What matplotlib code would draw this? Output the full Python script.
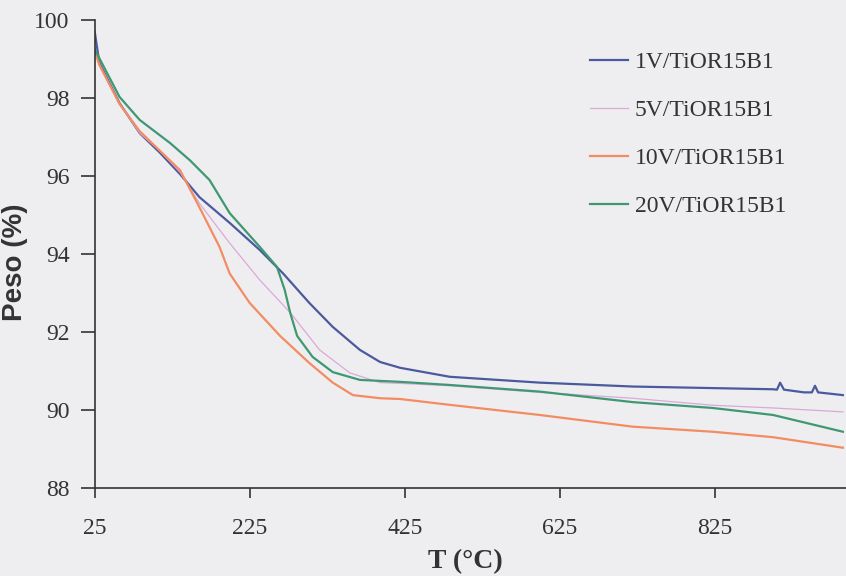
import numpy as np
import matplotlib.pyplot as plt

# TGA curves
T_1V = [25, 31, 57, 83, 109, 135, 160, 199, 238, 268, 302, 332, 367, 393, 419, 483, 599, 719, 822, 900, 905, 909, 914, 940, 950, 954, 958, 990]
W_1V = [99.7, 98.9, 97.87, 97.1, 96.6, 96.05, 95.46, 94.8, 94.1, 93.5, 92.74, 92.13, 91.54, 91.23, 91.08, 90.85, 90.7, 90.6, 90.56, 90.53, 90.52, 90.7, 90.52, 90.45, 90.45, 90.62, 90.45, 90.38]

T_5V = [25, 31, 57, 83, 109, 135, 160, 199, 238, 277, 315, 354, 393, 419, 483, 599, 719, 822, 900, 990]
W_5V = [99.2, 98.85, 97.85, 97.1, 96.65, 96.1, 95.3, 94.28, 93.33, 92.5, 91.54, 90.95, 90.7, 90.68, 90.62, 90.45, 90.3, 90.12, 90.05, 89.95]

T_10V = [25, 31, 57, 83, 109, 135, 160, 186, 199, 225, 264, 302, 332, 358, 393, 419, 483, 599, 719, 822, 900, 990]
W_10V = [99.2, 98.85, 97.85, 97.15, 96.65, 96.15, 95.2, 94.18, 93.5, 92.74, 91.9, 91.2, 90.7, 90.38, 90.3, 90.28, 90.13, 89.87, 89.57, 89.44, 89.3, 89.03]

T_20V = [25, 57, 83, 122, 148, 173, 199, 238, 260, 270, 277, 286, 306, 332, 367, 419, 483, 599, 719, 822, 900, 990]
W_20V = [99.25, 98.03, 97.44, 96.85, 96.4, 95.9, 95.05, 94.18, 93.67, 93.08, 92.5, 91.9, 91.36, 90.97, 90.77, 90.72, 90.64, 90.47, 90.2, 90.05, 89.87, 89.44]

labels = ['1V/TiOR15B1', '5V/TiOR15B1', '10V/TiOR15B1', '20V/TiOR15B1']
colors = ['#4b5a9e', '#dca8d8', '#f28c62', '#3f9872']
widths = [1.6, 0.9, 1.6, 1.6]

x_ticks = [25, 225, 425, 625, 825]
y_ticks = [88, 90, 92, 94, 96, 98, 100]

plt.rcParams['font.family'] = 'Liberation Serif'
bg = '#eeeef1'

fig = plt.figure(figsize=(8.46, 5.76), dpi=100, facecolor=bg)
ax = fig.add_axes([0.112, 0.153, 0.888, 0.812], facecolor=bg)

series = [(T_1V, W_1V), (T_5V, W_5V), (T_10V, W_10V), (T_20V, W_20V)]
for (t, w), lab, c, lw in zip(series, labels, colors, widths):
    ax.plot(t, w, color=c, lw=lw, label=lab)

ax.set_xlim(25, 994)
ax.set_ylim(88, 100)
ax.set_xticks(x_ticks)
ax.set_yticks(y_ticks)
for s in ['top', 'right']:
    ax.spines[s].set_visible(False)
for s in ['left', 'bottom']:
    ax.spines[s].set_color('#333333')
    ax.spines[s].set_linewidth(1.2)
ax.tick_params(axis='x', length=7, width=1.2, pad=15, labelsize=17, colors='#333333')
ax.tick_params(axis='y', length=10, width=1.2, pad=8, labelsize=17, colors='#333333')

ax.set_xlabel('T (°C)', fontsize=20, fontweight='bold', color='#333333')
ax.xaxis.set_label_coords(0.493, -0.13)
ax.set_ylabel('Peso (%)', fontsize=20, fontweight='bold', color='#333333',
              family='Liberation Sans')
ax.yaxis.set_label_coords(-0.089, 0.483)

leg = ax.legend(loc='upper left', bbox_to_anchor=(0.631, 0.978), frameon=False,
                fontsize=17, handlelength=1.6, handletextpad=0.3, labelspacing=1.12)
for txt in leg.get_texts():
    txt.set_color('#333333')

fig.savefig('out.png', dpi=100, facecolor=bg)
